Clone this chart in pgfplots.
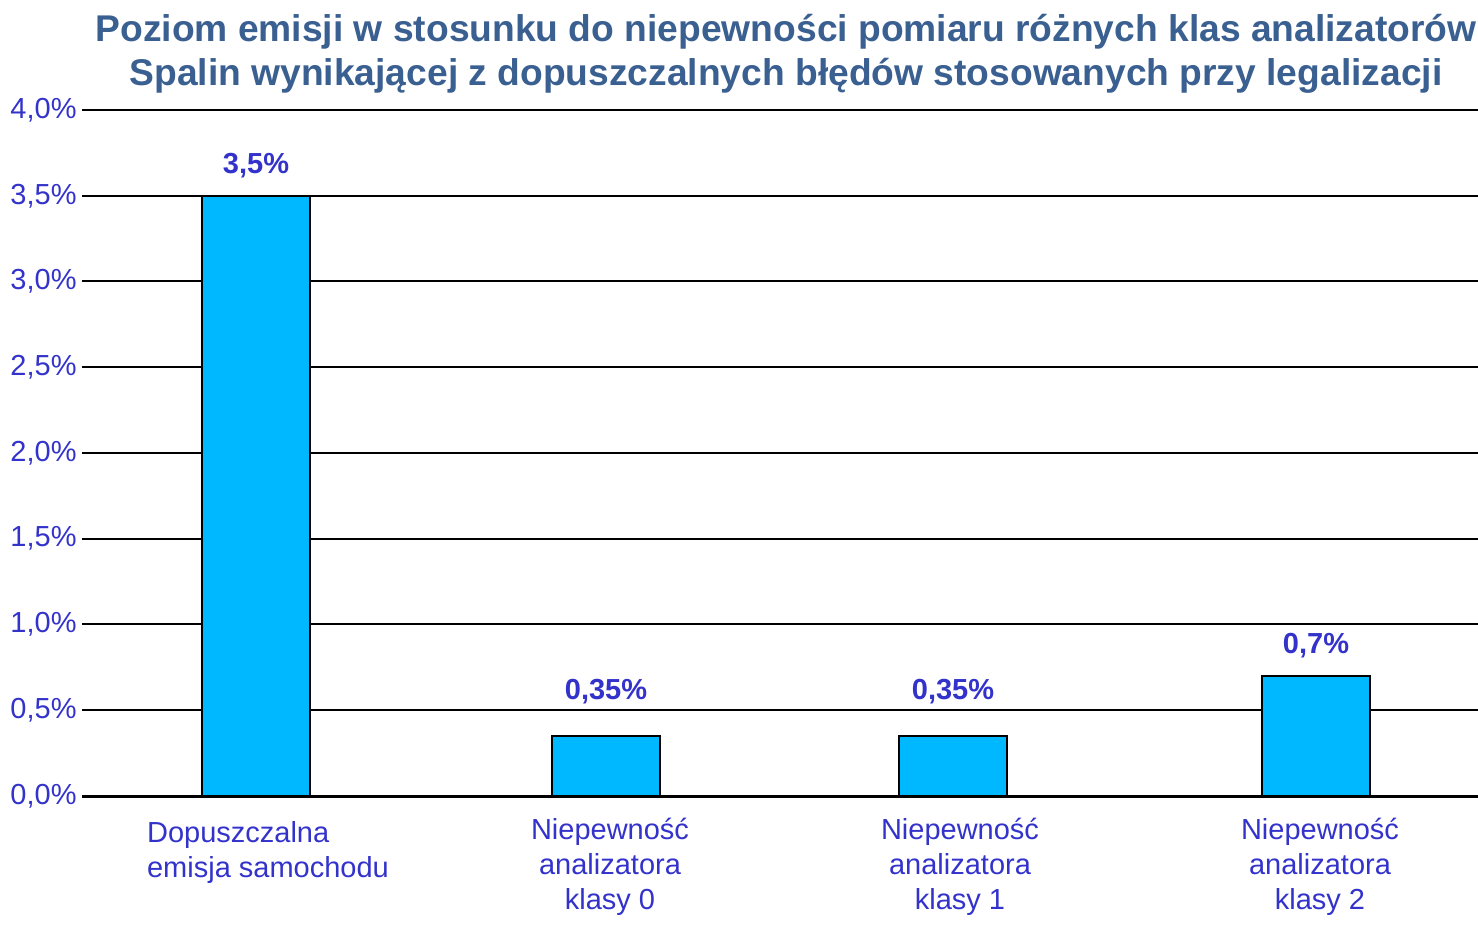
\documentclass[border=0pt]{standalone}
\usepackage{pgfplots}
\pgfplotsset{compat=1.18}
\usepackage{fontspec}
\setmainfont{Liberation Sans}
\definecolor{titleblue}{RGB}{58,95,145}
\definecolor{lblue}{RGB}{51,51,204}
\definecolor{barblue}{RGB}{0,184,255}
\begin{document}
\begin{tikzpicture}
\useasboundingbox (0,0) rectangle (739pt,-464.5pt);
\node[align=center, font=\fontsize{18.6pt}{22pt}\selectfont\bfseries, text=titleblue, inner sep=0pt] at (393pt,-27pt)
  {Poziom emisji w stosunku do niepewności pomiaru różnych klas analizatorów\\Spalin wynikającej z dopuszczalnych błędów stosowanych przy legalizacji};
\begin{axis}[
  at={(41pt,-398pt)}, anchor=south west,
  scale only axis, width=698pt, height=343pt,
  xmin=82, xmax=1478, ymin=0, ymax=4,
  axis line style={draw=none},
  /pgf/number format/assume math mode=true,
  ytick={0,0.5,1,1.5,2,2.5,3,3.5,4},
  yticklabels={{0,0\%},{0,5\%},{1,0\%},{1,5\%},{2,0\%},{2,5\%},{3,0\%},{3,5\%},{4,0\%}},
  yticklabel style={font=\fontsize{14.5pt}{16pt}\selectfont, text=lblue, inner sep=0pt, anchor=east, xshift=-2.5pt},
  xtick={268,610,960,1320},
  xticklabels={{\begin{tabular}{@{}l@{}}Dopuszczalna\\emisja samochodu\end{tabular}},{Niepewność\\analizatora\\klasy 0},{Niepewność\\analizatora\\klasy 1},{Niepewność\\analizatora\\klasy 2}},
  xticklabel style={font=\fontsize{14.5pt}{17.5pt}\selectfont, text=lblue, align=center, anchor=north, inner sep=0pt, yshift=-11pt},
  major tick length=0pt,
  ymajorgrids, major grid style={black, line width=1pt},
  clip=false,
  barstyle/.style={ybar, bar width=54pt, fill=barblue, draw=black, line width=1pt,
    nodes near coords={\pgfmathprintnumber[use comma,fixed,precision=2,assume math mode=true]{\pgfplotspointmeta}\%},
    every node near coord/.append style={font=\fontsize{14.5pt}{16pt}\selectfont\bfseries, text=lblue, anchor=south, yshift=#1}},
]
\addplot[barstyle=5pt] coordinates {(256,3.5) (1316,0.7)};
\addplot[barstyle=12pt] coordinates {(606,0.35) (953,0.35)};
\draw[black, line width=1.5pt] (axis cs:82,0) -- (axis cs:1478,0);
\end{axis}
\end{tikzpicture}
\end{document}
